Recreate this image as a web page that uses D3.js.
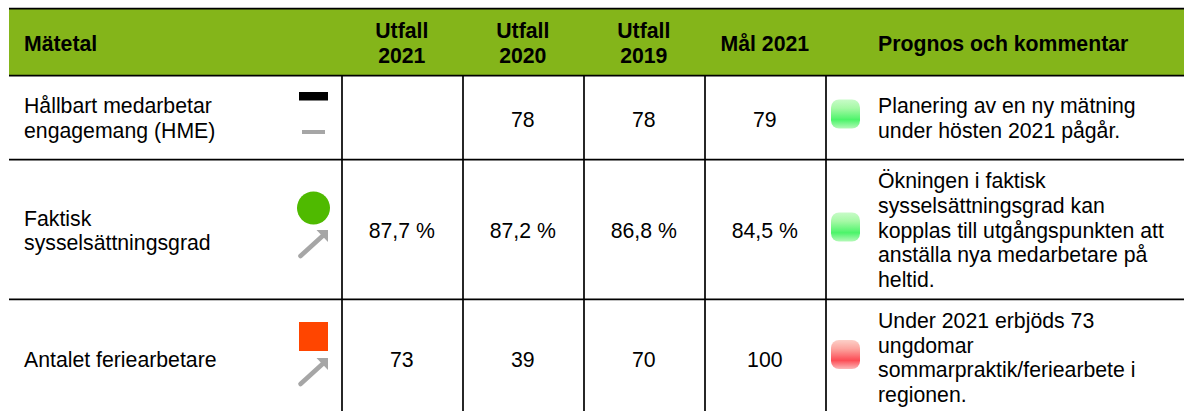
<!DOCTYPE html>
<html>
<head>
<meta charset="utf-8">
<script src="https://cdn.jsdelivr.net/npm/d3@7"></script>
<style>
  html, body { margin: 0; padding: 0; background: #fff; overflow: hidden; }
  svg { display: block; }
  text { font-family: "Liberation Sans", Arial, sans-serif; font-size: 21.25px; fill: #000; }
  .head text { font-weight: bold; }
</style>
</head>
<body>
<svg width="1184" height="411">
  <defs>
    <linearGradient id="lampGreen" x1="0" y1="0" x2="0" y2="1">
      <stop offset="0" stop-color="#c8fbc8"/>
      <stop offset="0.3" stop-color="#a6f9a6"/>
      <stop offset="0.7" stop-color="#4cf46a"/>
      <stop offset="1" stop-color="#b4f9b8"/>
    </linearGradient>
    <linearGradient id="lampRed" x1="0" y1="0" x2="0" y2="1">
      <stop offset="0" stop-color="#fcd0c8"/>
      <stop offset="0.3" stop-color="#fca6a0"/>
      <stop offset="0.7" stop-color="#fc4c55"/>
      <stop offset="1" stop-color="#fcb8b8"/>
    </linearGradient>
    <filter id="soft" x="-10%" y="-10%" width="120%" height="120%">
      <feGaussianBlur stdDeviation="0.6"/>
    </filter>
    <filter id="softer" x="-10%" y="-10%" width="120%" height="120%">
      <feGaussianBlur stdDeviation="0.4"/>
    </filter>
  </defs>
</svg>
<script>
var columns = [["Utfall", "2021"], ["Utfall", "2020"], ["Utfall", "2019"], ["Mål 2021"]];
var metrics = [
  ["Hållbart medarbetar", "engagemang (HME)"],
  ["Faktisk", "sysselsättningsgrad"],
  ["Antalet feriearbetare"]
];
var values = [
  ["", "78", "78", "79"],
  ["87,7 %", "87,2 %", "86,8 %", "84,5 %"],
  ["73", "39", "70", "100"]
];
var comments = [
  ["Planering av en ny mätning", "under hösten 2021 pågår."],
  ["Ökningen i faktisk", "sysselsättningsgrad kan", "kopplas till utgångspunkten att", "anställa nya medarbetare på", "heltid."],
  ["Under 2021 erbjöds 73", "ungdomar", "sommarpraktik/feriearbete i", "regionen."]
];
var lamps = ["Green", "Green", "Red"];

var svg = d3.select("svg");
var lineH = 24.9;

// columns
var x = d3.scaleBand().domain(d3.range(columns.length)).range([342, 826]);
var colMid = function(i) { return x(i) + x.bandwidth() / 2 - 0.7; };

// vertical centres per row: label, value, comment, lamp
var labelY = [117.5, 230, 358.5];
var valueY = [118.5, 230, 358.5];
var commentY = [117.5, 229.5, 357];
var lampY = [114, 227, 354.5];
var hLines = [8.7, 75.7, 159.7, 299.4];

// multi line text, centred on cy
function block(g, lines, px, cy, anchor) {
  var top = cy - (lines.length - 1) * lineH / 2;
  g.append("text")
    .attr("text-anchor", anchor)
    .selectAll("tspan")
    .data(lines)
    .enter().append("tspan")
      .attr("x", px)
      .attr("y", function(d, i) { return top + i * lineH + 8; })
      .text(function(d) { return d; });
}

//###############################################
// Header
//###############################################
var head = svg.append("g").attr("class", "head");
head.append("rect")
  .attr("x", 9).attr("y", 9).attr("width", 1175).attr("height", 66)
  .attr("fill", "#84b51a");
block(head, ["Mätetal"], 24, 42.5, "start");
columns.forEach(function(c, i) {
  block(head, c, colMid(i), 42.5, "middle");
});
block(head, ["Prognos och kommentar"], 878, 42.5, "start");

//###############################################
// Grid
//###############################################
var grid = svg.append("g").attr("stroke", "#000").attr("stroke-width", 1.7);
hLines.forEach(function(y) {
  grid.append("line").attr("x1", 9).attr("x2", 1184).attr("y1", y).attr("y2", y);
});
d3.range(columns.length + 1).forEach(function(i) {
  var px = i < columns.length ? x(i) : x.range()[1];
  grid.append("line").attr("x1", px).attr("x2", px).attr("y1", 75.7).attr("y2", 411);
});

//###############################################
// Rows
//###############################################
var rows = svg.append("g");
metrics.forEach(function(m, r) {
  block(rows, m, 24, labelY[r], "start");
  values[r].forEach(function(v, c) {
    block(rows, [v], colMid(c), valueY[r], "middle");
  });
  block(rows, comments[r], 878, commentY[r], "start");

  // status lamp
  rows.append("rect")
    .attr("x", 831).attr("y", lampY[r] - 14.5).attr("width", 29).attr("height", 29).attr("rx", 8)
    .attr("fill", "url(#lamp" + lamps[r] + ")")
    .attr("filter", "url(#soft)");
});

// status symbols and trend arrows
var symbolX = 313.5;
var symbols = svg.append("g").attr("filter", "url(#softer)");
symbols.append("rect").attr("x", symbolX - 14.5).attr("y", 92).attr("width", 29).attr("height", 8.5).attr("fill", "#000");
symbols.append("rect").attr("x", symbolX - 11.5).attr("y", 130).attr("width", 23).attr("height", 4).attr("fill", "#a6a6a6");
symbols.append("circle").attr("cx", symbolX).attr("cy", 208).attr("r", 16.5).attr("fill", "#4fba00");
symbols.append("rect").attr("x", symbolX - 14.5).attr("y", 322).attr("width", 29).attr("height", 29).attr("fill", "#ff4500");

function arrow(oy) {
  symbols.append("path")
    .attr("d", "M" + (symbolX - 13) + "," + (oy + 26) + "L" + (symbolX + 9) + "," + (oy + 6))
    .attr("stroke", "#a6a6a6").attr("stroke-width", 4.6).attr("stroke-linecap", "round");
  symbols.append("path")
    .attr("d", "M" + (symbolX + 3) + "," + oy + "H" + (symbolX + 14.5) + "V" + (oy + 12) + "Z")
    .attr("fill", "#a6a6a6");
}
arrow(230);
arrow(358);
</script>
</body>
</html>
